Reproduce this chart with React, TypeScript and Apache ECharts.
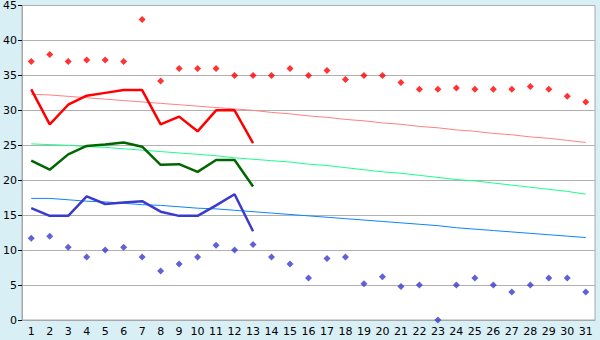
import React, { useEffect, useRef } from "react";
import * as echarts from "echarts";

const days = Array.from({ length: 31 }, (_, i) => String(i + 1));

const recordMax = [37, 38, 37, 37.2, 37.2, 37, 43, 34.2, 36, 36, 36, 35, 35, 35, 36, 35, 35.7, 34.4, 35, 35, 34, 33, 33, 33.2, 33, 33, 33, 33.4, 33, 32, 31.2];
const recordMin = [11.7, 12, 10.4, 9, 10, 10.4, 9, 7, 8, 9, 10.7, 10, 10.8, 9, 8, 6, 8.8, 9, 5.2, 6.2, 4.8, 5, 0, 5, 6, 5, 4, 5, 6, 6, 4];

const maxTemp = [33, 28, 30.8, 32.1, 32.5, 32.9, 32.9, 28, 29.1, 27, 30, 30, 25.3];
const meanTemp = [22.8, 21.5, 23.7, 24.9, 25.1, 25.4, 24.8, 22.2, 22.3, 21.2, 22.9, 22.9, 19.1];
const minTemp = [16, 14.9, 14.9, 17.7, 16.6, 16.8, 17, 15.5, 14.9, 14.9, 16.4, 18, 12.7];

const normalMax = [32.3, 32.2, 32.0, 31.8, 31.6, 31.4, 31.2, 31.0, 30.8, 30.6, 30.4, 30.2, 30.0, 29.7, 29.5, 29.2, 29.0, 28.7, 28.5, 28.2, 28.0, 27.7, 27.5, 27.2, 27.0, 26.7, 26.5, 26.2, 26.0, 25.7, 25.4];
const normalMean = [25.2, 25.1, 25.0, 24.8, 24.7, 24.5, 24.3, 24.1, 23.9, 23.7, 23.5, 23.2, 23.0, 22.8, 22.6, 22.3, 22.1, 21.8, 21.5, 21.2, 21.0, 20.7, 20.4, 20.1, 19.9, 19.6, 19.3, 19.0, 18.7, 18.4, 18.0];
const normalMin = [17.4, 17.4, 17.2, 17.0, 16.9, 16.7, 16.5, 16.4, 16.2, 16.0, 15.9, 15.7, 15.5, 15.3, 15.1, 14.9, 14.7, 14.5, 14.3, 14.1, 13.9, 13.7, 13.5, 13.2, 13.0, 12.8, 12.6, 12.4, 12.2, 12.0, 11.8];

const yTicks = { min: 0, max: 45, interval: 5 };

export default function App() {
  const ref = useRef<HTMLDivElement>(null);
  useEffect(() => {
    if (!ref.current) return;
    const chart = echarts.init(ref.current, undefined, { renderer: "svg" });
    const font = "DejaVu Sans";
    const thin = (data: number[], color: string) => ({
      type: "line",
      data,
      symbol: "none",
      lineStyle: { color, width: 1 },
      z: 2,
    });
    const thick = (data: number[], color: string) => ({
      type: "line",
      data,
      symbol: "none",
      lineStyle: { color, width: 2.5 },
      z: 3,
    });
    const dots = (data: number[], color: string) => ({
      type: "scatter",
      data,
      symbol: "diamond",
      symbolSize: 7,
      itemStyle: { color },
      z: 4,
    });
    chart.setOption({
      animation: false,
      backgroundColor: "#d9eff6",
      grid: {
        left: 20,
        right: 5,
        top: 5,
        bottom: 20,
        show: true,
        backgroundColor: "#ffffff",
        borderColor: "#a8a8a8",
        borderWidth: 1,
      },
      xAxis: {
        type: "category",
        data: days,
        boundaryGap: true,
        axisLine: { lineStyle: { color: "#a8a8a8" } },
        axisTick: { alignWithLabel: true, length: 5, lineStyle: { color: "#000" } },
        axisLabel: { interval: 0, color: "#000", fontFamily: font, fontSize: 11, margin: 6 },
        splitLine: { show: false },
      },
      yAxis: {
        type: "value",
        min: yTicks.min,
        max: yTicks.max,
        interval: yTicks.interval,
        axisLine: { show: true, lineStyle: { color: "#a8a8a8" } },
        axisTick: { show: true, length: 4, lineStyle: { color: "#000" } },
        axisLabel: { color: "#000", fontFamily: font, fontSize: 11, margin: 5 },
        splitLine: { lineStyle: { color: "#b0b0b0" } },
      },
      series: [
        thin(normalMax, "#ff8080"),
        thin(normalMean, "#1aff8c"),
        thin(normalMin, "#0a84ff"),
        thick(maxTemp, "#ff0000"),
        thick(meanTemp, "#006600"),
        thick(minTemp, "#3a3acc"),
        dots(recordMax, "#ff0000"),
        dots(recordMin, "#3a3acc"),
      ],
    });
    return () => chart.dispose();
  }, []);
  return (
    <div
      ref={ref}
      style={{ position: "fixed", left: 0, top: 0, width: 600, height: 340 }}
    />
  );
}
